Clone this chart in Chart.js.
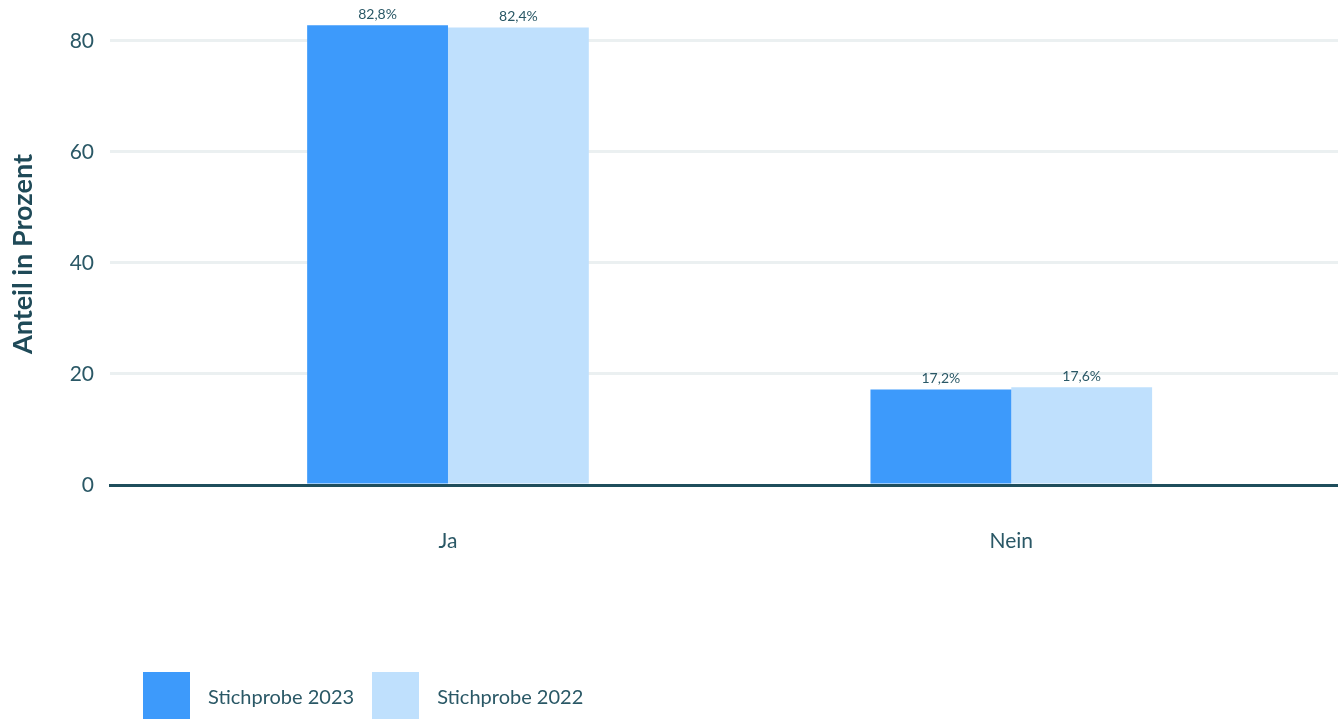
<!DOCTYPE html>
<html lang="de">
<head>
<meta charset="utf-8">
<title>Anteil in Prozent</title>
<script src="https://cdn.jsdelivr.net/npm/chart.js@4/dist/chart.umd.min.js"></script>
<style>
  html, body { margin: 0; padding: 0; background: #fff; }
  #wrap { position: relative; width: 1338px; height: 719px; overflow: hidden; }
  #legende {
    position: absolute; left: 143px; top: 672px;
    display: flex; align-items: center;
    font-family: Lato, "Open Sans", sans-serif; font-size: 20px; color: #2a5866;
  }
  #legende .eintrag { display: flex; align-items: center; margin-right: 18px; }
  #legende .box { width: 47px; height: 47px; margin-right: 18px; }
</style>
</head>
<body>
<div id="wrap">
  <canvas id="grafik"></canvas>
  <div id="legende"></div>
</div>
<script>
// Daten
const kategorien = ['Ja', 'Nein'];
const stichprobe2023 = [82.8, 17.2];
const stichprobe2022 = [82.4, 17.6];
const yTicks = [0, 20, 40, 60, 80];

const farbeText = '#2a5866';
const farbeAchse = '#1f4e5c';

// Prozentwerte über den Balken
const wertLabels = {
    id: 'wertLabels',
    afterDatasetsDraw(chart) {
        const ctx = chart.ctx;
        ctx.save();
        ctx.font = '14px Lato, "Open Sans", sans-serif';
        ctx.fillStyle = farbeText;
        ctx.textAlign = 'center';
        ctx.textBaseline = 'bottom';
        chart.data.datasets.forEach((ds, i) => {
            chart.getDatasetMeta(i).data.forEach((bar, j) => {
                const text = ds.data[j].y.toFixed(1).replace('.', ',') + '%';
                ctx.fillText(text, bar.x, bar.y - 4);
            });
        });
        ctx.restore();
    }
};

const chart = new Chart(document.getElementById('grafik'), {
    type: 'bar',
    data: {
        datasets: [
            {
                label: 'Stichprobe 2023',
                data: stichprobe2023.map((v, i) => ({ x: i, y: v })),
                backgroundColor: '#3d9afb'
            },
            {
                label: 'Stichprobe 2022',
                data: stichprobe2022.map((v, i) => ({ x: i, y: v })),
                backgroundColor: '#bfe0fd'
            }
        ]
    },
    options: {
        responsive: true,
        maintainAspectRatio: false,
        animation: false,
        layout: { padding: { top: 23, left: 0, right: 0, bottom: 0 } },
        categoryPercentage: 0.5,
        barPercentage: 1,
        plugins: {
            legend: { display: false },
            tooltip: { enabled: false }
        },
        scales: {
            x: {
                type: 'linear',
                bounds: 'data',
                offset: false,
                min: -0.6,
                max: 1.58,
                grid: { display: false, drawTicks: false, offset: false },
                border: { display: true, color: farbeAchse, width: 3 },
                afterBuildTicks: scale => {
                    scale.ticks = kategorien.map((k, i) => ({ value: i }));
                },
                afterFit: scale => { scale.height = 234; },
                ticks: {
                    padding: 44,
                    color: farbeText,
                    font: { family: 'Lato, "Open Sans", sans-serif', size: 21 },
                    callback: value => kategorien[value]
                }
            },
            y: {
                bounds: 'data',
                min: 0,
                max: 83.2,
                grid: {
                    drawTicks: false,
                    lineWidth: 3,
                    color: ctx => ctx.tick && ctx.tick.value === 0 ? 'rgba(0,0,0,0)' : '#ebf0f1'
                },
                border: { display: false },
                afterBuildTicks: scale => {
                    scale.ticks = yTicks.map(v => ({ value: v }));
                },
                // feste Breite, kein Zusatzabstand oben durch die Tick-Beschriftung
                afterFit: scale => {
                    scale.width = 110;
                    scale.paddingTop = 0;
                },
                ticks: {
                    padding: 16,
                    color: farbeText,
                    font: { family: 'Lato, "Open Sans", sans-serif', size: 21 }
                },
                title: {
                    display: true,
                    text: 'Anteil in Prozent',
                    color: '#1f4a58',
                    padding: { top: 7, bottom: 0 },
                    font: { family: 'Lato, "Open Sans", sans-serif', size: 27, weight: 'bold' }
                }
            }
        }
    },
    plugins: [wertLabels]
});

// Legende unter dem Diagramm
const legende = document.getElementById('legende');
chart.data.datasets.forEach(ds => {
    const eintrag = document.createElement('div');
    eintrag.className = 'eintrag';
    eintrag.innerHTML = `<span class="box" style="background:${ds.backgroundColor}"></span><span>${ds.label}</span>`;
    legende.appendChild(eintrag);
});
</script>
</body>
</html>
